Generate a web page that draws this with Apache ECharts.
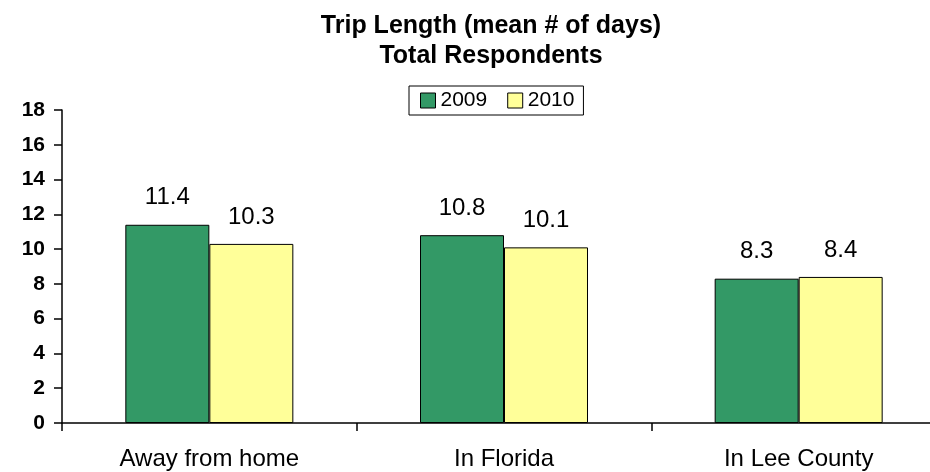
<!DOCTYPE html>
<html><head><meta charset="utf-8">
<script src="https://cdn.jsdelivr.net/npm/echarts@6/dist/echarts.min.js"></script>
<style>html,body{margin:0;padding:0;background:#fff}#c{width:930px;height:472px}</style>
</head><body><div id="c"></div>
<script>
const categories = ['Away from home', 'In Florida', 'In Lee County'];
const values2009 = [11.4, 10.8, 8.3];
const values2010 = [10.3, 10.1, 8.4];
const seriesNames = ['2009', '2010'];
const yTicks = [0, 2, 4, 6, 8, 10, 12, 14, 16, 18];

const FONT = 'Liberation Sans, Arial, sans-serif';
const chart = echarts.init(document.getElementById('c'));
const labelStyle = {show: true, position: 'top', distance: 15, color: '#000', fontSize: 24, fontFamily: FONT,
  formatter: p => p.value.toFixed(1)};
chart.setOption({
  animation: false,
  textStyle: {fontFamily: FONT},
  title: {
    text: 'Trip Length (mean # of days)\nTotal Respondents',
    left: 486, top: 6, textAlign: 'center',
    textStyle: {fontSize: 25, fontWeight: 'bold', color: '#000', lineHeight: 30, fontFamily: FONT}
  },
  legend: {
    data: seriesNames,
    left: 409, top: 86,
    padding: [4, 9, 4, 11],
    borderColor: '#000', borderWidth: 1,
    itemWidth: 15, itemHeight: 15, itemGap: 20,
    icon: 'rect',
    itemStyle: {borderColor: '#000', borderWidth: 1},
    textStyle: {fontSize: 21, color: '#000', fontFamily: FONT}
  },
  grid: {left: 62, top: 110, width: 884, height: 313, outerBoundsMode: 'none', containLabel: false},
  xAxis: {
    type: 'category', data: categories,
    axisLine: {lineStyle: {color: '#000', width: 1.5}},
    axisTick: {show: true, length: 8, lineStyle: {color: '#000', width: 1.5}},
    axisLabel: {color: '#000', fontSize: 24, margin: 24, fontFamily: FONT}
  },
  yAxis: {
    type: 'value', min: yTicks[0], max: yTicks[yTicks.length - 1], interval: 2,
    axisLine: {show: true, lineStyle: {color: '#000', width: 1.5}},
    axisTick: {show: true, length: 8, lineStyle: {color: '#000', width: 1.5}},
    splitLine: {show: false},
    axisLabel: {color: '#000', fontSize: 21, fontWeight: 'bold', margin: 17, fontFamily: FONT}
  },
  series: [
    {name: seriesNames[0], type: 'bar', data: values2009, barWidth: 84, barGap: '0%',
      itemStyle: {color: '#339966', borderColor: '#000', borderWidth: 1}, label: labelStyle},
    {name: seriesNames[1], type: 'bar', data: values2010, barWidth: 84,
      itemStyle: {color: '#FFFF99', borderColor: '#000', borderWidth: 1}, label: labelStyle}
  ]
});
</script></body></html>
